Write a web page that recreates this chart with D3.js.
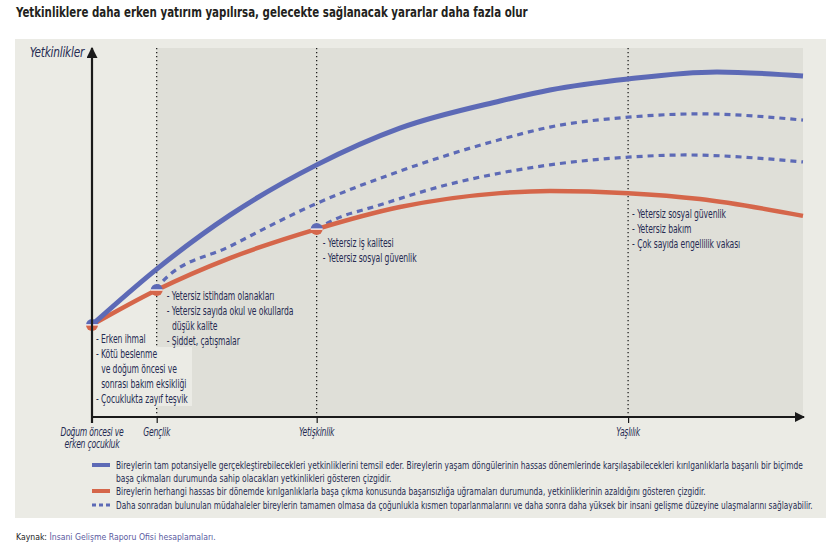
<!DOCTYPE html>
<html><head><meta charset="utf-8">
<script src="https://cdn.jsdelivr.net/npm/d3@7"></script>
<style>
body{margin:0;background:#fff;}
svg text{font-family:"Liberation Sans Narrow","Arial Narrow","DejaVu Sans Condensed",sans-serif;}
</style></head><body>
<svg id="c" width="834" height="545"></svg>
<script>
// ---------- DATA ----------
const title = "Yetkinliklere daha erken yatırım yapılırsa, gelecekte sağlanacak yararlar daha fazla olur";
const yLabel = "Yetkinlikler";
const stageLabels = [["Doğum öncesi ve","erken çocukluk"],["Gençlik"],["Yetişkinlik"],["Yaşlılık"]];
const stagePos = [0, 9.1, 31.6, 75.4];          // position on life course (0-100)

// full potential (blue solid)
const potentialX = [0, 9.1, 19.4, 31.6, 43.3, 57.4, 64.4, 75.4, 87.9, 100];
const potentialY = [25.1, 40.3, 55.0, 68.7, 78.7, 86.1, 89.1, 92.1, 94.0, 92.9];
// reduced capabilities (red solid)
const reducedX = [0, 9.1, 19.4, 31.6, 43.3, 57.4, 64.4, 75.4, 85.5, 100];
const reducedY = [25.1, 34.6, 43.3, 51.2, 57.2, 61.0, 61.6, 61.0, 59.4, 54.8];
// recovery after early intervention (dashed upper)
const recovery1X = [9.1, 10.0, 19.4, 31.6, 43.3, 57.4, 64.4, 75.4, 85.5, 100];
const recovery1Y = [34.6, 37.1, 46.5, 58.2, 67.0, 75.6, 79.0, 81.7, 82.6, 80.9];
// recovery after adult intervention (dashed lower)
const recovery2X = [31.6, 35.3, 38.1, 50.4, 64.4, 75.4, 83.4, 100];
const recovery2Y = [51.2, 54.8, 56.4, 63.5, 68.7, 70.8, 71.4, 69.5];

const notesBirth = ["- Erken ihmal","- Kötü beslenme","  ve doğum öncesi ve","  sonrası bakım eksikliği","- Çocuklukta zayıf teşvik"];
const notesYouth = ["- Yetersiz istihdam olanakları","- Yetersiz sayıda okul ve okullarda","  düşük kalite","- Şiddet, çatışmalar"];
const notesAdult = ["- Yetersiz iş kalitesi","- Yetersiz sosyal güvenlik"];
const notesOld = ["- Yetersiz sosyal güvenlik","- Yetersiz bakım","- Çok sayıda engellilik vakası"];

const legendTexts = [
  ["Bireylerin tam potansiyelle gerçekleştirebilecekleri yetkinliklerini temsil eder. Bireylerin yaşam döngülerinin hassas dönemlerinde karşılaşabilecekleri kırılganlıklarla başarılı bir biçimde",
   "başa çıkmaları durumunda sahip olacakları yetkinlikleri gösteren çizgidir."],
  ["Bireylerin herhangi hassas bir dönemde kırılganlıklarla başa çıkma konusunda başarısızlığa uğramaları durumunda, yetkinliklerinin azaldığını gösteren çizgidir."],
  ["Daha sonradan bulunulan müdahaleler bireylerin tamamen olmasa da çoğunlukla kısmen toparlanmalarını ve daha sonra daha yüksek bir insani gelişme düzeyine ulaşmalarını sağlayabilir."]
];
const sourceLabel = "Kaynak:";
const sourceText = "İnsani Gelişme Raporu Ofisi hesaplamaları.";

// ---------- STYLE ----------
const BLUE = "#5d6ab6", RED = "#d5664a", INK = "#262b52";
const PANEL = "#ebebe5", SHADE = "#dfdfd8";

const svg = d3.select("#c");
const x = d3.scaleLinear().domain([0,100]).range([92,803]);
const y = d3.scaleLinear().domain([0,100]).range([417,50]);

// horizontal condensing helper (about anchor x)
function condense(sel, s, ax){
  sel.attr("transform",`translate(${ax},0) scale(${s},1) translate(${-ax},0)`);
}
function fitWidth(sel, target, ax){
  const w = sel.node().getComputedTextLength();
  condense(sel, Math.min(1, target / w), ax);
}

svg.append("rect").attr("width",834).attr("height",545).attr("fill","#fff");
// title
const tt = svg.append("text").attr("x",16).attr("y",17).text(title)
  .attr("font-size",13.5).attr("font-weight","bold").attr("fill","#231f20");
fitWidth(tt, 512, 16);

// panel & shaded region
svg.append("rect").attr("x",15).attr("y",39).attr("width",811).attr("height",479).attr("fill",PANEL);
svg.append("rect").attr("x",x(stagePos[1])).attr("y",48).attr("width",x(100)-x(stagePos[1])).attr("height",y(0)-48).attr("fill",SHADE);

// dotted stage lines
svg.selectAll(".vline").data(stagePos.slice(1)).join("line")
  .attr("x1",d=>x(d)).attr("x2",d=>x(d)).attr("y1",48).attr("y2",y(0))
  .attr("stroke","#111").attr("stroke-width",1.2).attr("stroke-dasharray","1.2,2.8");

// birth note background box
svg.append("rect").attr("x",94).attr("y",347).attr("width",98).attr("height",59).attr("fill",PANEL);

// lines
const line = d3.line().x(d=>x(d[0])).y(d=>y(d[1])).curve(d3.curveMonotoneX);
const zip = (a,b)=>a.map((v,i)=>[v,b[i]]);
svg.append("path").attr("d",line(zip(recovery1X,recovery1Y))).attr("fill","none")
  .attr("stroke",BLUE).attr("stroke-width",3.2).attr("stroke-dasharray","6,5");
svg.append("path").attr("d",line(zip(recovery2X,recovery2Y))).attr("fill","none")
  .attr("stroke",BLUE).attr("stroke-width",3.2).attr("stroke-dasharray","6,5");
svg.append("path").attr("d",line(zip(reducedX,reducedY))).attr("fill","none")
  .attr("stroke",RED).attr("stroke-width",4.5);
svg.append("path").attr("d",line(zip(potentialX,potentialY))).attr("fill","none")
  .attr("stroke",BLUE).attr("stroke-width",5);

// markers at vulnerable points
const markIdx = [0,1,3];
markIdx.forEach(i=>{
  const g = svg.append("g").attr("transform",`translate(${x(reducedX[i])},${y(reducedY[i])})`);
  g.append("path").attr("d",d3.arc()({innerRadius:0,outerRadius:6,startAngle:-Math.PI/2,endAngle:Math.PI/2})).attr("fill",BLUE);
  g.append("path").attr("d",d3.arc()({innerRadius:0,outerRadius:6,startAngle:Math.PI/2,endAngle:Math.PI*1.5})).attr("fill",RED);
  g.append("line").attr("x1",-6).attr("x2",6).attr("stroke","#fff").attr("stroke-width",1.3);
});

// axes
const defs = svg.append("defs");
defs.append("marker").attr("id","arr").attr("viewBox","0 0 10 10").attr("refX",9).attr("refY",5)
  .attr("markerWidth",5).attr("markerHeight",5).attr("orient","auto")
  .append("path").attr("d","M0,0L10,5L0,10z").attr("fill","#1a1a1a");
svg.append("line").attr("x1",x(0)).attr("x2",x(100)+1).attr("y1",y(0)).attr("y2",y(0))
  .attr("stroke","#1a1a1a").attr("stroke-width",2).attr("marker-end","url(#arr)");
svg.append("line").attr("x1",x(0)).attr("x2",x(0)).attr("y1",y(0)+6).attr("y2",y(100)-2)
  .attr("stroke","#1a1a1a").attr("stroke-width",2.2).attr("marker-end","url(#arr)");

const ax = svg.append("g").attr("transform",`translate(0,${y(0)})`)
  .call(d3.axisBottom(x).tickValues(stagePos.slice(1)).tickSize(6).tickFormat(""));
ax.select(".domain").remove();
ax.selectAll(".tick line").attr("stroke","#1a1a1a").attr("stroke-width",1.2);

// stage labels
stageLabels.forEach((lines,i)=>{
  const cx = x(stagePos[i]);
  const t = svg.append("text").attr("x",cx).attr("y",y(0)+19)
    .attr("text-anchor","middle").attr("font-size",11.5).attr("font-style","italic")
    .attr("fill",INK).attr("letter-spacing",-0.3);
  lines.forEach((l,j)=>t.append("tspan").attr("x",cx).attr("dy",j?12.5:0).text(l));
  condense(t, 0.74, cx);
});

// y label
const yl = svg.append("text").attr("x",84).attr("y",57).attr("text-anchor","end")
  .attr("font-size",14).attr("font-style","italic").attr("fill",INK).attr("letter-spacing",-0.3).text(yLabel);
condense(yl, 0.84, 84);

// notes
function notes(arr, x0, y0){
  const g = svg.append("g").attr("transform",`translate(${x0},${y0}) scale(0.74,1)`);
  arr.forEach((s,i)=>{
    const ind = s.startsWith("  ");
    g.append("text").attr("x",ind?7:0).attr("y",i*15).attr("font-size",11.5)
      .attr("fill",INK).attr("letter-spacing",-0.1).text(s.trim());
  });
}
notes(notesBirth, x(stagePos[0])+4, 343);
notes(notesYouth, x(stagePos[1])+10, 300);
notes(notesAdult, x(stagePos[2])+6, 247);
notes(notesOld, x(stagePos[3])+4, 218);

// legend
const legY = [469, 495, 509];
const legTargets = [[687, 276], [591], [698]];
legendTexts.forEach((lines,i)=>{
  const sw = svg.append("line").attr("x1",92).attr("x2",110).attr("y1",legY[i]-4).attr("y2",legY[i]-4);
  if(i===0) sw.attr("stroke",BLUE).attr("stroke-width",4);
  if(i===1) sw.attr("stroke",RED).attr("stroke-width",4);
  if(i===2) sw.attr("stroke",BLUE).attr("stroke-width",3).attr("stroke-dasharray","4,3");
  lines.forEach((l,j)=>{
    const t = svg.append("text").attr("x",116).attr("y",legY[i]+j*13).attr("font-size",10)
      .attr("fill",INK).text(l);
    fitWidth(t, legTargets[i][j], 116);
  });
});

// source
const src = svg.append("text").attr("x",16).attr("y",540).attr("font-size",9).attr("fill","#333");
src.append("tspan").attr("fill","#222").text(sourceLabel+" ");
src.append("tspan").attr("fill","#5a5aa0").text(sourceText);
fitWidth(src, 200, 16);
</script></body></html>
